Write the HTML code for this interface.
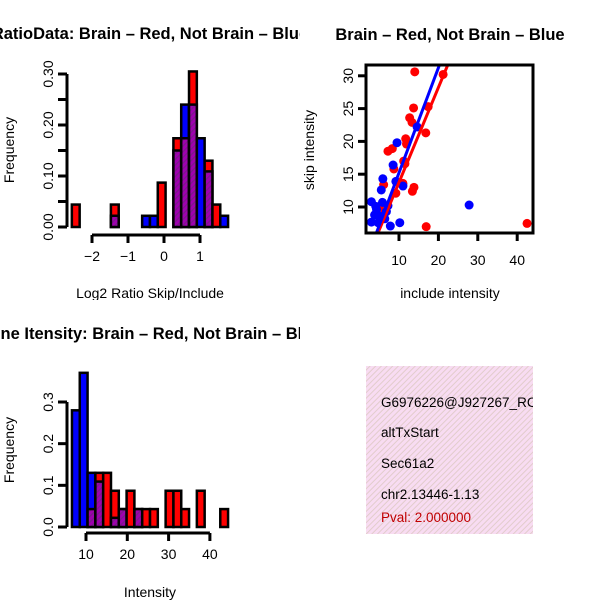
<!DOCTYPE html>
<html><head><meta charset="utf-8"><style>
html,body{margin:0;padding:0;background:#fff}
svg{display:block}
text{font-family:"Liberation Sans",sans-serif}
</style></head><body>
<svg width="600" height="600" xmlns="http://www.w3.org/2000/svg">
<defs>
<pattern id="hatch" width="4" height="4" patternUnits="userSpaceOnUse" patternTransform="rotate(45)">
<rect width="4" height="4" fill="#a000b0"/><rect width="1.3" height="4" fill="#7a1a8a"/></pattern>
<pattern id="pink" width="4" height="4" patternUnits="userSpaceOnUse" patternTransform="rotate(45)">
<rect width="4" height="4" fill="#f8dcf2"/><rect width="1" height="4" fill="#e2cccc"/></pattern>
<clipPath id="c1"><rect x="0" y="0" width="300" height="300"/></clipPath>
<clipPath id="c3"><rect x="0" y="300" width="300" height="300"/></clipPath>
<clipPath id="cs"><rect x="366" y="65" width="167" height="168"/></clipPath>
<clipPath id="ci"><rect x="366" y="366" width="167" height="168"/></clipPath>
</defs>
<g id="p1" clip-path="url(#c1)"></g>
<g id="p2"></g>
<g id="p3" clip-path="url(#c3)"></g>
<g>
<rect x="366" y="366" width="167" height="168" fill="url(#pink)"/>
<g clip-path="url(#ci)" font-size="13.5">
<text x="381" y="407">G6976226@J927267_RC</text>
<text x="381" y="437">altTxStart</text>
<text x="381" y="468">Sec61a2</text>
<text x="381" y="499">chr2.13446-1.13</text>
<text x="381" y="522" fill="#c00000">Pval: 2.000000</text>
</g></g>
</svg>
<script>
// Ratio histogram data
const ratioBinStart = -2.56;
const ratioBinWidth = 0.217;
const ratioRed  = [0.044,0,0,0,0,0.044,0,0,0,0,0,0.087,0,0.174,0.174,0.305,0,0.13,0.044,0];
const ratioBlue = [0,0,0,0,0,0.022,0,0,0,0.022,0.022,0,0,0.15,0.24,0.24,0.174,0.109,0,0.022];
const ratioXTicks = [-2,-1,0,1];
const ratioYTicks = ["0.00","0.10","0.20","0.30"];
// Intensity histogram data
const intBinStart = 6.6;
const intBinWidth = 1.89;
const intRed  = [0,0,0.043,0.13,0.13,0.087,0.043,0.087,0.043,0.043,0.043,0,0.087,0.087,0.043,0,0.087,0,0,0.043];
const intBlue = [0.28,0.37,0.13,0.109,0,0.022,0.043,0,0.043,0,0,0,0,0,0,0,0,0,0,0];
const intXTicks = [10,20,30,40];
const intYTicks = ["0.0","0.1","0.2","0.3"];
// Scatter data
const redX = [14,21.2,13.7,17.4,12.7,13.3,16.8,11.7,11.9,7.2,8.3,11.2,11.5,8.7,6.1,11,13.8,13.4,9.2,16.9,42.5,5.1,6.4];
const redY = [30.6,30.2,25.1,25.3,23.6,22.9,21.3,20.4,19.6,18.5,18.9,17,16.6,15.8,13.4,13.6,13,12.4,12.1,7,7.5,10.1,9.1];
const blueX = [9.5,8.5,5.9,5.5,11,9.2,14.6,27.8,3,7.2,5.8,4.3,3.8,5.1,6.4,3,4.7,7.8,10.2,4.1,6.8];
const blueY = [19.8,16.4,14.3,12.6,13.2,13.9,22.2,10.3,10.8,10.2,10.7,9.6,8.8,8.6,8.2,7.7,7.6,7.1,7.6,10.1,9.3];
const fitRed = [1.446,-0.7];
const fitBlue = [1.6,-0.78];
const scatXTicks = [10,20,30,40];
const scatYTicks = [10,15,20,25,30];

const NS="http://www.w3.org/2000/svg";
const TF=14;
function mk(parent,tag,attrs,txt){const e=document.createElementNS(NS,tag);for(const k in attrs)e.setAttribute(k,attrs[k]);if(txt!==undefined)e.textContent=txt;parent.appendChild(e);return e;}

function histPanel(g,o){
  const sx=v=>o.x0px+(v-o.x0v)*o.xs, sy=v=>o.y0px-v*o.ys;
  const n=o.red.length;
  for(let i=0;i<n;i++){
    const a=sx(o.bs+i*o.bw), b=sx(o.bs+(i+1)*o.bw);
    const r=o.red[i], bl=o.blue[i];
    const hi=Math.max(r,bl), lo=Math.min(r,bl);
    if(hi>0){
      const el=mk(g,'rect',{x:a,y:sy(hi),width:b-a,height:sy(0)-sy(hi),fill:r>=bl?'#ff0000':'#0000ff',stroke:'#000','stroke-width':2.5});
      
      
    }
    if(lo>0){
      const el=mk(g,'rect',{x:a,y:sy(lo),width:b-a,height:sy(0)-sy(lo),fill:'url(#hatch)',stroke:'#000','stroke-width':2.5});
      
      
    }
  }
  const ymax=parseFloat(o.yt[o.yt.length-1]);
  let ax=mk(g,'line',{x1:o.yax,x2:o.yax,y1:sy(0),y2:sy(ymax),stroke:'#000','stroke-width':3});
  
  
  for(let v=0;v<=ymax+1e-9;v+=o.minor){mk(g,'line',{x1:o.yax-9,x2:o.yax,y1:sy(v),y2:sy(v),stroke:'#000','stroke-width':3});}
  o.yt.forEach(t=>{const v=parseFloat(t);const e=mk(g,'text',{x:0,y:0,'font-size':TF,'text-anchor':'middle',transform:`translate(${o.yax-14},${sy(v)}) rotate(-90)`},t);
    
    });
  ax=mk(g,'line',{x1:sx(o.xt[0]),x2:sx(o.xt[o.xt.length-1]),y1:o.xay,y2:o.xay,stroke:'#000','stroke-width':3});
  
  
  o.xt.forEach(v=>{mk(g,'line',{x1:sx(v),x2:sx(v),y1:o.xay,y2:o.xay+8,stroke:'#000','stroke-width':3});
    const e=mk(g,'text',{x:sx(v),y:o.xay+26,'font-size':TF,'text-anchor':'middle'},v<0?'\u2212'+(-v):String(v));
    
    });
}
const p1=document.getElementById('p1'),p2=document.getElementById('p2'),p3=document.getElementById('p3');
histPanel(p1,{name:'ratio',x0v:0,x0px:164,xs:36,y0px:227,ys:510,bs:ratioBinStart,bw:ratioBinWidth,red:ratioRed,blue:ratioBlue,yt:ratioYTicks,xt:ratioXTicks,yax:67,xay:235,minor:0.05});
histPanel(p3,{name:'intensity',x0v:10,x0px:86,xs:4.13,y0px:527,ys:416.7,bs:intBinStart,bw:intBinWidth,red:intRed,blue:intBlue,yt:intYTicks,xt:intXTicks,yax:67,xay:533,minor:0.1});

function lab(g,txt,x,y,opts,name){const e=mk(g,'text',Object.assign({x:x,y:y,'text-anchor':'middle','font-size':TF},opts||{}),txt);
  
  return e;}
lab(p1,'RatioData: Brain \u2013 Red, Not Brain \u2013 Blue',150,39,{'font-size':16.5,'font-weight':'bold'},'ratio-title');
lab(p1,'Frequency',0,0,{transform:'translate(14,150) rotate(-90)'},'ratio-y-axis-title');
lab(p1,'Log2 Ratio Skip/Include',150,298,{},'ratio-x-axis-title');
lab(p3,'Gene Itensity: Brain \u2013 Red, Not Brain \u2013 Blue',150,339,{'font-size':16.5,'font-weight':'bold'},'intensity-title');
lab(p3,'Frequency',0,0,{transform:'translate(14,450) rotate(-90)'},'intensity-y-axis-title');
lab(p3,'Intensity',150,597,{},'intensity-x-axis-title');
lab(p2,'Brain \u2013 Red, Not Brain \u2013 Blue',450,40,{'font-size':16.5,'font-weight':'bold'},'scatter-title');
lab(p2,'skip intensity',0,0,{transform:'translate(314,150) rotate(-90)'},'scatter-y-axis-title');
lab(p2,'include intensity',450,298,{},'scatter-x-axis-title');

const ssx=v=>399+(v-10)*3.94, ssy=v=>207-(v-10)*6.56;
const inner=mk(p2,'g',{'clip-path':'url(#cs)'});
function drawPts(xs,ys,col,nm){xs.forEach((x,i)=>{const c=mk(inner,'circle',{cx:ssx(x),cy:ssy(ys[i]),r:4.5,fill:col});
  
  });}
drawPts(redX,redY,'#ff0000','brain-point');
drawPts(blueX,blueY,'#0000ff','not-brain-point');
function fit(f,col,nm){const x1=0,x2=45;const l=mk(inner,'line',{x1:ssx(x1),y1:ssy(f[0]*x1+f[1]),x2:ssx(x2),y2:ssy(f[0]*x2+f[1]),stroke:col,'stroke-width':3});
  
  }
fit(fitRed,'#ff0000','brain-fit-line');
fit(fitBlue,'#0000ff','not-brain-fit-line');
const box=mk(p2,'rect',{x:366,y:65,width:167,height:168,fill:'none',stroke:'#000','stroke-width':3});


scatXTicks.forEach(v=>{mk(p2,'line',{x1:ssx(v),x2:ssx(v),y1:233,y2:241,stroke:'#000','stroke-width':3});
  const e=mk(p2,'text',{x:ssx(v),y:265,'font-size':TF,'text-anchor':'middle'},String(v));
  
  });
scatYTicks.forEach(v=>{mk(p2,'line',{x1:358,x2:366,y1:ssy(v),y2:ssy(v),stroke:'#000','stroke-width':3});
  const e=mk(p2,'text',{x:0,y:0,'font-size':TF,'text-anchor':'middle',transform:`translate(${353},${ssy(v)}) rotate(-90)`},String(v));
  
  });
</script>
</body></html>
